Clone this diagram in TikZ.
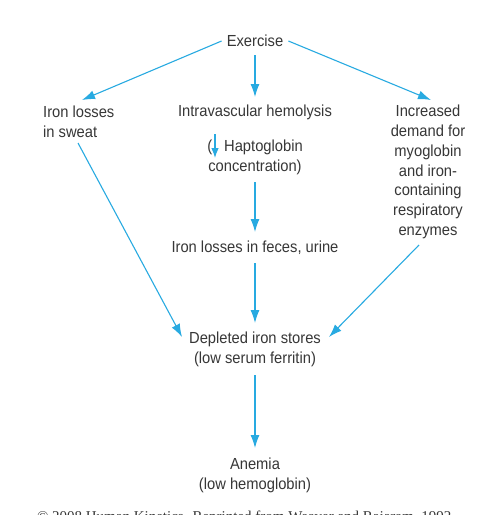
\documentclass[tikz,border=0pt]{standalone}
\usepackage{fontspec}
\setmainfont{Liberation Sans}[FakeStretch=0.92]
\newfontfamily\serifcr{Liberation Serif}
\usetikzlibrary{arrows.meta}
\definecolor{arrowc}{RGB}{40,170,225}
\definecolor{textc}{RGB}{55,55,55}
\begin{document}
\begin{tikzpicture}[x=1pt,y=-1pt,
  lbl/.style={font=\fontsize{16}{19.8}\selectfont, text=textc, inner sep=0pt, align=center},
  arr/.style={draw=arrowc, line width=1.1pt, -{Latex[length=13pt,width=9pt]}},
  smallarr/.style={draw=arrowc, line width=1.1pt, -{Latex[length=10pt,width=7.5pt]}}]
\useasboundingbox[fill=white] (0,0) rectangle (485,515);
% nodes
\node[lbl, inner xsep=5pt] (ex) at (255,41) {Exercise};
\node[lbl, align=left, anchor=west] (sweat) at (43,121.5) {Iron losses\\in sweat};
\node[lbl] (intra) at (255,112) {Intravascular hemolysis};
\node[lbl] (hapto) at (255,157) {(\hspace{12pt}Haptoglobin\\concentration)};
\node[lbl] (feces) at (255,248) {Iron losses in feces, urine};
\node[lbl] (incr) at (428,172) {Increased\\demand for\\myoglobin\\and iron-\\containing\\respiratory\\enzymes};
\node[lbl] (dep) at (255,349.5) {Depleted iron stores\\(low serum ferritin)};
\node[lbl] (anem) at (255,475) {Anemia\\(low hemoglobin)};
\node[font=\serifcr\fontsize{15}{18}\selectfont, text=textc, anchor=base, inner sep=0pt] (copy) at (246,521) {© 2008 Human Kinetics. Reprinted from Weaver and Rajaram, 1992.};
% connector end points
\coordinate (t1) at (82,100);
\coordinate (s2) at (255,55);
\coordinate (t2) at (255,97);
\coordinate (t3) at (431,100);
\coordinate (h1) at (215,134);
\coordinate (h2) at (215,158);
\coordinate (s5) at (255,182);
\coordinate (t5) at (255,232);
\coordinate (s6) at (78,143);
\coordinate (t6) at (182,337);
\coordinate (s7) at (255,263);
\coordinate (t7) at (255,323);
\coordinate (s8) at (419,245);
\coordinate (t8) at (329,337);
\coordinate (s9) at (255,375);
\coordinate (t9) at (255,448);
% connectors
\draw[arr] (ex.west) -- (t1);
\draw[arr] (s2) -- (t2);
\draw[arr] (ex.east) -- (t3);
\draw[smallarr] (h1) -- (h2);
\draw[arr] (s5) -- (t5);
\draw[arr] (s6) -- (t6);
\draw[arr] (s7) -- (t7);
\draw[arr] (s8) -- (t8);
\draw[arr] (s9) -- (t9);
\end{tikzpicture}
\end{document}
